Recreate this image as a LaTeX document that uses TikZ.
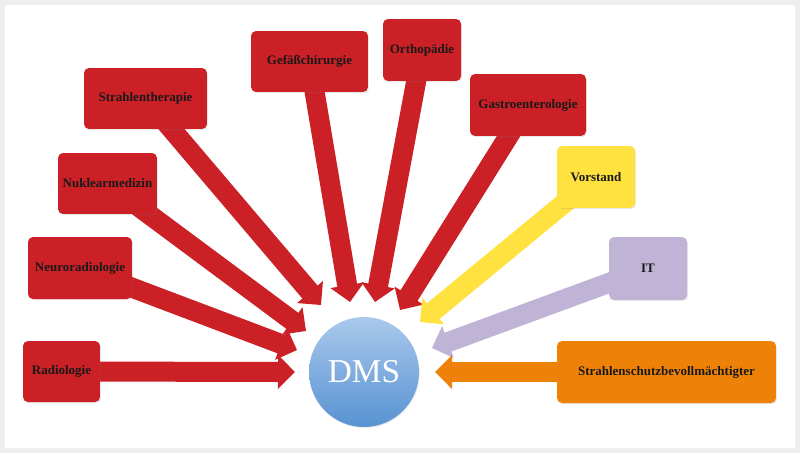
\documentclass[tikz,border=0pt]{standalone}
\usepackage{fontspec}
\setmainfont{Liberation Serif}
\usepackage{tikz}
\usetikzlibrary{arrows.meta,shadows}
\usepackage{xcolor}
\definecolor{dmsred}{RGB}{204,32,39}
\definecolor{dmsyellow}{RGB}{255,225,64}
\definecolor{dmslilac}{RGB}{191,179,214}
\definecolor{dmsorange}{RGB}{238,130,8}
\definecolor{dmstop}{RGB}{170,201,236}
\definecolor{dmsbottom}{RGB}{88,146,210}
\definecolor{panelgray}{RGB}{238,238,238}
\pgfdeclarelayer{panel}
\pgfdeclarelayer{links}
\pgfsetlayers{panel,links,main}
\tikzset{
	deptbox/.style={
		fill=#1, rounded corners=0.1cm, inner sep=0pt,
		font=\fontsize{7.4}{8.5}\selectfont\bfseries, text=black!90,
		drop shadow={opacity=0.18, shadow xshift=0.5pt, shadow yshift=-0.7pt}
	},
	feedarrow/.style={
		line width=0.4cm, draw=#1,
		-{Triangle[width=0.66cm,length=0.34cm]}
	}
}

\begin{document}
\begin{tikzpicture}[x=0.02cm, y=-0.02cm]
	\useasboundingbox (0, 0) rectangle (800, 453);
	\begin{pgfonlayer}{panel}
		\fill[panelgray] (0, 0) rectangle (800, 453);
		\fill[white] (5, 5) rectangle (795, 448);
	\end{pgfonlayer}

	\node[circle, minimum size=2.2cm, top color=dmstop, bottom color=dmsbottom, text=white, font=\fontsize{19}{19}\selectfont, drop shadow={opacity=0.15, shadow xshift=0.5pt, shadow yshift=-0.7pt}] (dms) at (364, 372) {DMS};

	\node[deptbox=dmsred, minimum width=1.54cm, minimum height=1.22cm] (radio) at (61.5, 371.5) {Radiologie};
	\node[deptbox=dmsred, minimum width=2.08cm, minimum height=1.24cm] (neuro) at (80, 268) {Neuroradiologie};
	\node[deptbox=dmsred, minimum width=1.98cm, minimum height=1.22cm] (nukl) at (107.5, 183.5) {Nuklearmedizin};
	\node[deptbox=dmsred, minimum width=2.46cm, minimum height=1.22cm] (strahl) at (145.5, 98.5) {Strahlentherapie};
	\node[deptbox=dmsred, minimum width=2.34cm, minimum height=1.22cm] (gefaess) at (309.5, 61.5) {Gefäßchirurgie};
	\node[deptbox=dmsred, minimum width=1.56cm, minimum height=1.24cm] (ortho) at (422, 50) {Orthopädie};
	\node[deptbox=dmsred, minimum width=2.32cm, minimum height=1.24cm] (gastro) at (528, 105) {Gastroenterologie};
	\node[deptbox=dmsyellow, minimum width=1.56cm, minimum height=1.24cm] (vorstand) at (596, 177) {Vorstand};
	\node[deptbox=dmslilac, minimum width=1.56cm, minimum height=1.26cm] (it) at (648, 268.5) {IT};
	\node[deptbox=dmsorange, minimum width=4.38cm, minimum height=1.24cm] (schutz) at (666.5, 372) {Strahlenschutzbevollmächtigter};

	\coordinate (tipRadio) at (295, 372);
	\coordinate (tipNeuro) at (297, 350);
	\coordinate (tipNukl) at (306, 331);
	\coordinate (tipStrahl) at (321, 305);
	\coordinate (tipGefaess) at (350, 302);
	\coordinate (tipOrtho) at (375, 302);
	\coordinate (tipGastro) at (400, 310);
	\coordinate (tipVorstand) at (420, 322);
	\coordinate (tipIt) at (432, 348);
	\coordinate (tipSchutz) at (435, 372);

	\begin{pgfonlayer}{links}
		\foreach \src/\tip/\col in {radio/tipRadio/dmsred, neuro/tipNeuro/dmsred, nukl/tipNukl/dmsred, strahl/tipStrahl/dmsred, gefaess/tipGefaess/dmsred, ortho/tipOrtho/dmsred, gastro/tipGastro/dmsred, vorstand/tipVorstand/dmsyellow, it/tipIt/dmslilac, schutz/tipSchutz/dmsorange}
			\draw[feedarrow=\col] (\src.center) -- (\tip);
	\end{pgfonlayer}

\end{tikzpicture}
\end{document}
